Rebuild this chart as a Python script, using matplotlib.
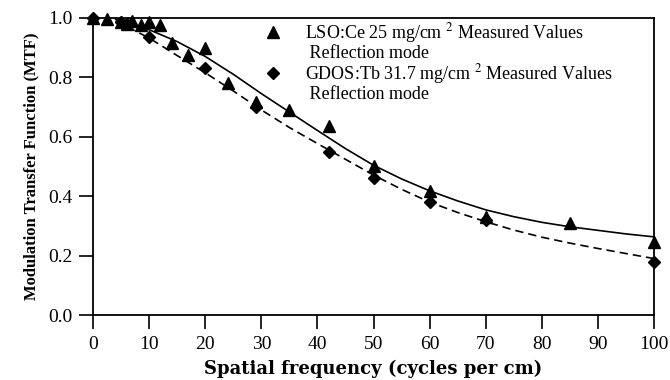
import numpy as np
import matplotlib.pyplot as plt
from matplotlib.lines import Line2D

plt.rcParams['font.family'] = ['Liberation Serif', 'DejaVu Serif']
plt.rcParams['mathtext.fontset'] = 'stix'

# measured points
lso_x = [0, 2.5, 5, 6, 7, 8.5, 10, 12, 14, 17, 20, 24, 29, 35, 42, 50, 60, 70, 85, 100]
lso_y = [1.0, 0.995, 0.985, 0.98, 0.99, 0.975, 0.985, 0.975, 0.915, 0.875, 0.90, 0.78,
         0.717, 0.69, 0.636, 0.50, 0.418, 0.33, 0.31, 0.246]

gdos_x = [0, 5, 6, 10, 20, 29, 42, 50, 60, 70, 100]
gdos_y = [1.0, 0.985, 0.98, 0.935, 0.83, 0.70, 0.55, 0.46, 0.38, 0.32, 0.18]

# fitted curves
fit_x = [4, 10, 15, 20, 25, 30, 35, 40, 45, 50, 55, 60, 65, 70, 75, 80, 85, 90, 95, 100]
lso_fit = [0.995, 0.96, 0.92, 0.87, 0.81, 0.745, 0.683, 0.621, 0.56, 0.504, 0.458, 0.418,
           0.384, 0.354, 0.331, 0.312, 0.297, 0.285, 0.273, 0.263]
gdos_fit = [0.99, 0.932, 0.873, 0.815, 0.754, 0.69, 0.631, 0.577, 0.524, 0.471, 0.423, 0.38,
            0.345, 0.314, 0.286, 0.262, 0.242, 0.224, 0.207, 0.19]

fig = plt.figure(figsize=(6.7, 3.8), dpi=100)
ax = fig.add_axes([0.139, 0.171, 0.837, 0.782])

ax.plot(fit_x, lso_fit, color='black', lw=1.2, clip_on=False)
ax.plot(fit_x, gdos_fit, color='black', lw=1.2, ls=(0, (5, 3)), clip_on=False)
ax.plot(lso_x, lso_y, '^', color='black', ms=8, clip_on=False, zorder=5)
ax.plot(gdos_x, gdos_y, 'D', color='black', ms=6, clip_on=False, zorder=5)

ax.set_xlim(0, 100)
ax.set_ylim(0, 1.0)
ax.set_xticks(np.arange(0, 101, 10))
ax.set_yticks(np.arange(0, 1.01, 0.2))
ax.set_yticklabels(['0.0', '0.2', '0.4', '0.6', '0.8', '1.0'])
ax.tick_params(direction='out', length=10, width=1.2, labelsize=14, pad=5)
for s in ax.spines.values():
    s.set_linewidth(1.3)

ax.set_xlabel('Spatial frequency (cycles per cm)', fontsize=13, fontweight='bold',
              family=['DejaVu Serif'], labelpad=5)
ax.set_ylabel('Modulation Transfer Function (MTF)', fontsize=12, fontweight='bold',
              labelpad=6)

handles = [
    Line2D([], [], marker='^', color='black', ls='none', ms=8),
    Line2D([], [], ls='none'),
    Line2D([], [], marker='D', color='black', ls='none', ms=6),
    Line2D([], [], ls='none'),
]
labels = [
    'LSO:Ce 25 mg/cm $^2$ Measured Values',
    ' Reflection mode',
    'GDOS:Tb 31.7 mg/cm $^2$ Measured Values',
    ' Reflection mode',
]
ax.legend(handles, labels, loc='upper left', bbox_to_anchor=(0.303, 0.99), frameon=False,
          fontsize=13, handlelength=1.1, handletextpad=1.2, labelspacing=0.0,
          borderpad=0, borderaxespad=0)

fig.savefig('out.png', dpi=100)
